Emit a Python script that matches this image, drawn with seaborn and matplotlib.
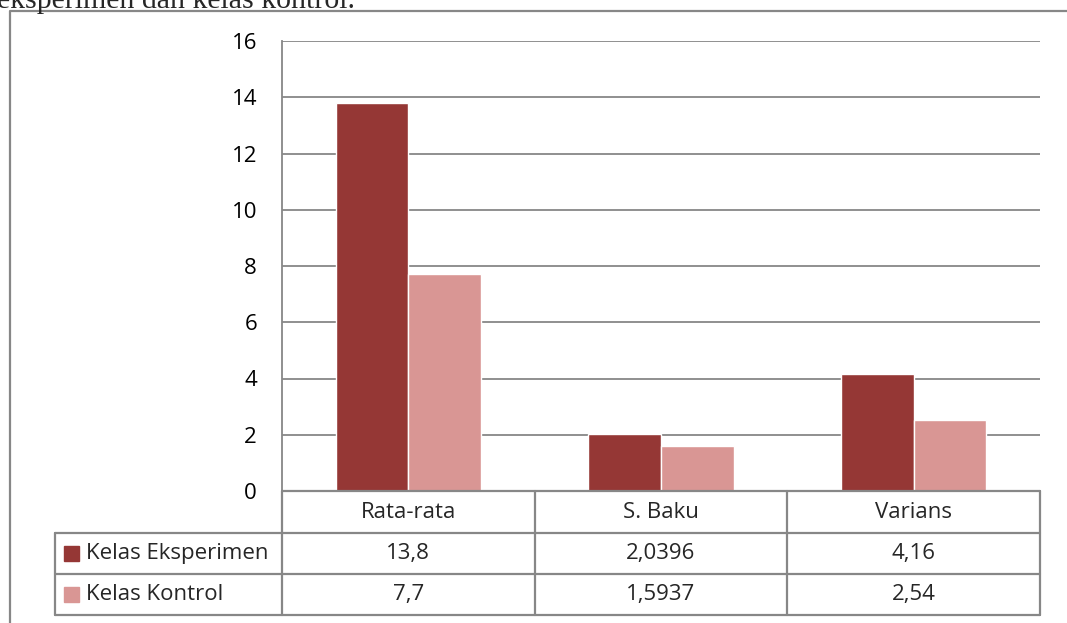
import pandas as pd
import matplotlib.pyplot as plt
import seaborn as sns
from matplotlib.patches import Rectangle

# data
categories = ['Rata-rata', 'S. Baku', 'Varians']
series = ['Kelas Eksperimen', 'Kelas Kontrol']
eksperimen = [13.8, 2.0396, 4.16]
kontrol = [7.7, 1.5937, 2.54]
eksperimen_txt = ['13,8', '2,0396', '4,16']
kontrol_txt = ['7,7', '1,5937', '2,54']
yticks = [0, 2, 4, 6, 8, 10, 12, 14, 16]

colors = ['#953735', '#D99694']
grey = '#878787'

df = pd.DataFrame({
    'kategori': categories * 2,
    'nilai': eksperimen + kontrol,
    'kelas': [series[0]] * 3 + [series[1]] * 3,
})

sns.set_style('white')
plt.rcParams['font.family'] = ['Open Sans', 'DejaVu Sans']
fs = 16

W, H = 1067, 623
fig = plt.figure(figsize=(W / 100, H / 100), dpi=100)

# plot area in pixels
x0, x1, ytop, ybot = 282, 1040, 41, 491
ax = fig.add_axes([x0 / W, 1 - ybot / H, (x1 - x0) / W, (ybot - ytop) / H])
ax.set_facecolor('none')
sns.barplot(data=df, x='kategori', y='nilai', hue='kelas', palette=colors,
            width=0.575, gap=0, saturation=1, ax=ax, legend=False, zorder=3)
ax.set_xlim(-0.5, 2.5)
ax.set_ylim(0, 16)
ax.set_yticks(yticks)
ax.set_yticklabels([str(t) for t in yticks], fontsize=fs, color='black')
ax.tick_params(axis='y', length=0, pad=18)
ax.set_xticks([])
ax.set_xlabel('')
ax.set_ylabel('')
ax.grid(axis='y', color=grey, linewidth=1.3, zorder=0)
for s in ['top', 'right', 'bottom']:
    ax.spines[s].set_visible(False)
ax.spines['left'].set_color(grey)
ax.spines['left'].set_linewidth(1.3)

# overlay in pixel coords for the data table and frame
ov = fig.add_axes([0, 0, 1, 1])
ov.set_xlim(0, W)
ov.set_ylim(H, 0)
ov.axis('off')

lw = 1.6
colw = (x1 - x0) / len(categories)
edges = [x0 + i * colw for i in range(len(categories) + 1)]
r0, r1, r2, r3 = ybot, 533, 574, 615
leg_x = 55

ov.plot([x0, x1], [r0, r0], color=grey, lw=lw)
for y in [r1, r2, r3]:
    ov.plot([leg_x, x1], [y, y], color=grey, lw=lw)
for x in edges:
    ov.plot([x, x], [r0, r3], color=grey, lw=lw)
ov.plot([leg_x, leg_x], [r1, r3], color=grey, lw=lw)

for i, cat in enumerate(categories):
    cx = (edges[i] + edges[i + 1]) / 2
    ov.text(cx, (r0 + r1) / 2, cat, ha='center', va='center', fontsize=fs)
    ov.text(cx, (r1 + r2) / 2, eksperimen_txt[i], ha='center', va='center', fontsize=fs)
    ov.text(cx, (r2 + r3) / 2, kontrol_txt[i], ha='center', va='center', fontsize=fs)

for (ya, yb), name, c in zip([(r1, r2), (r2, r3)], series, colors):
    cy = (ya + yb) / 2
    ov.add_patch(Rectangle((64, cy - 7.5), 15, 15, color=c))
    ov.text(86, cy, name, ha='left', va='center', fontsize=fs)

# outer chart frame (cut off at right and bottom)
ov.plot([10, 10, W + 5], [H + 5, 11, 11], color=grey, lw=lw, clip_on=False)

# caption text cut off at the top
ov.text(355, 8, 'eksperimen dan kelas kontrol.', ha='right', va='baseline',
        fontsize=21.5, family=['Liberation Serif'])

fig.savefig('out.png', dpi=100)
